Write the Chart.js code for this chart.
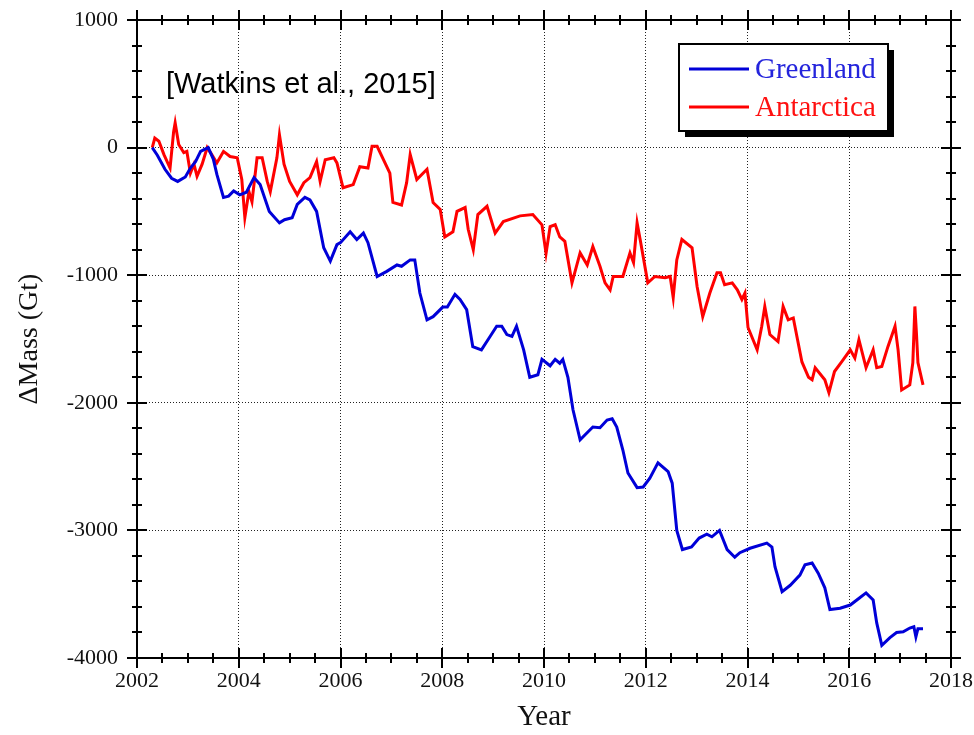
<!DOCTYPE html>
<html>
<head>
<meta charset="utf-8">
<script src="https://cdn.jsdelivr.net/npm/chart.js@4.4.1/dist/chart.umd.min.js"></script>
<style>
  html, body { margin: 0; padding: 0; background: #fff; }
  #wrap { width: 974px; height: 735px; }
</style>
</head>
<body>
<div id="wrap"><canvas id="chart"></canvas></div>
<script>
// values (decimal year, Gt)
const greenlandYears = [
  2002.30, 2002.40, 2002.55, 2002.68, 2002.80, 2002.95, 2003.05, 2003.15, 2003.25, 2003.40,
  2003.50, 2003.57, 2003.70, 2003.80, 2003.90, 2004.02, 2004.15, 2004.30, 2004.42, 2004.60,
  2004.80, 2004.90, 2005.05, 2005.15, 2005.30, 2005.40, 2005.53, 2005.67, 2005.80, 2005.93,
  2006.00, 2006.19, 2006.32, 2006.45, 2006.54, 2006.72, 2006.91, 2007.11, 2007.20, 2007.37,
  2007.46, 2007.56, 2007.70, 2007.82, 2008.01, 2008.10, 2008.25, 2008.35, 2008.48, 2008.60,
  2008.77, 2008.94, 2009.07, 2009.17, 2009.27, 2009.37, 2009.46, 2009.60, 2009.72, 2009.88,
  2009.96, 2010.12, 2010.22, 2010.31, 2010.37, 2010.47, 2010.57, 2010.71, 2010.96, 2011.10,
  2011.24, 2011.34, 2011.43, 2011.55, 2011.65, 2011.83, 2011.95, 2012.08, 2012.24, 2012.44,
  2012.52, 2012.61, 2012.72, 2012.90, 2013.05, 2013.20, 2013.30, 2013.45, 2013.60, 2013.75,
  2013.85, 2014.05, 2014.38, 2014.48, 2014.54, 2014.68, 2014.84, 2015.03, 2015.13, 2015.27,
  2015.39, 2015.52, 2015.62, 2015.82, 2016.02, 2016.20, 2016.33, 2016.47, 2016.54, 2016.64,
  2016.80, 2016.93, 2017.06, 2017.19, 2017.27, 2017.31, 2017.35, 2017.45
];
const greenlandMass = [
  0, -60, -170, -240, -265, -230, -160, -110, -30, 0,
  -90, -210, -390, -380, -340, -370, -350, -235, -290, -500,
  -590, -565, -550, -445, -390, -410, -500, -785, -890, -760,
  -745, -660, -720, -670, -745, -1010, -970, -920, -930, -880,
  -880, -1140, -1350, -1325, -1250, -1250, -1150, -1190, -1270, -1560,
  -1585, -1480, -1400, -1400, -1465, -1480, -1400, -1585, -1800, -1780,
  -1660, -1710, -1660, -1690, -1660, -1800, -2055, -2290, -2190, -2195,
  -2135, -2125, -2190, -2370, -2550, -2665, -2660, -2590, -2470, -2540,
  -2630, -3000, -3150, -3130, -3060, -3030, -3050, -3000, -3150, -3210,
  -3175, -3140, -3100, -3130, -3285, -3480, -3430, -3350, -3270, -3255,
  -3335, -3450, -3620, -3610, -3585, -3530, -3490, -3545, -3725, -3900,
  -3840, -3800, -3795, -3765, -3755, -3835, -3770, -3770
];

const antarcticaYears = [
  2002.30, 2002.35, 2002.43, 2002.53, 2002.65, 2002.72, 2002.75, 2002.82, 2002.92, 2002.98,
  2003.05, 2003.12, 2003.18, 2003.28, 2003.38, 2003.47, 2003.57, 2003.70, 2003.83, 2003.97,
  2004.06, 2004.12, 2004.20, 2004.26, 2004.36, 2004.46, 2004.56, 2004.62, 2004.75, 2004.80,
  2004.89, 2005.00, 2005.15, 2005.28, 2005.40, 2005.53, 2005.60, 2005.70, 2005.87, 2005.93,
  2006.05, 2006.25, 2006.38, 2006.54, 2006.62, 2006.72, 2006.97, 2007.03, 2007.20, 2007.30,
  2007.37, 2007.50, 2007.70, 2007.82, 2007.96, 2008.05, 2008.21, 2008.29, 2008.45, 2008.51,
  2008.61, 2008.70, 2008.88, 2009.04, 2009.20, 2009.53, 2009.78, 2009.96, 2010.04, 2010.12,
  2010.22, 2010.31, 2010.41, 2010.55, 2010.71, 2010.85, 2010.96, 2011.10, 2011.20, 2011.30,
  2011.36, 2011.55, 2011.69, 2011.76, 2011.83, 2011.89, 2012.04, 2012.18, 2012.38, 2012.48,
  2012.54, 2012.61, 2012.71, 2012.91, 2013.01, 2013.12, 2013.26, 2013.40, 2013.47, 2013.55,
  2013.70, 2013.80, 2013.89, 2013.95, 2014.01, 2014.19, 2014.28, 2014.34, 2014.44, 2014.60,
  2014.70, 2014.80, 2014.90, 2015.07, 2015.20, 2015.27, 2015.33, 2015.52, 2015.60, 2015.71,
  2015.85, 2016.02, 2016.11, 2016.19, 2016.33, 2016.47, 2016.54, 2016.64, 2016.76, 2016.90,
  2016.96, 2017.03, 2017.19, 2017.25, 2017.29, 2017.32, 2017.35, 2017.45
];
const antarcticaMass = [
  0, 75, 50, -55, -160, 125, 195, 25, -40, -30,
  -200, -130, -225, -130, 0, -55, -120, -30, -70, -80,
  -250, -550, -345, -425, -80, -80, -265, -345, -80, 100,
  -130, -265, -370, -275, -235, -110, -265, -95, -80, -120,
  -315, -290, -150, -160, 10, 10, -200, -430, -450, -275,
  -55, -250, -170, -430, -485, -700, -660, -500, -470, -640,
  -800, -525, -460, -670, -580, -535, -525, -605, -830, -620,
  -605, -700, -735, -1060, -825, -920, -775, -930, -1060, -1115,
  -1010, -1010, -825, -900, -590, -720, -1060, -1010, -1020, -1010,
  -1175, -880, -720, -785, -1090, -1325, -1140, -980, -980, -1075,
  -1060, -1115, -1190, -1140, -1410, -1585, -1400, -1245, -1465, -1520,
  -1245, -1350, -1335, -1680, -1800, -1820, -1725, -1820, -1920, -1755,
  -1680, -1585, -1650, -1505, -1725, -1585, -1725, -1715, -1560, -1400,
  -1585, -1900, -1860, -1685, -1245, -1450, -1685, -1860
];

const seriesNames = ['Greenland', 'Antarctica'];
const seriesColors = ['#0000d8', '#ff0000'];
const legendTextColors = ['#2424dc', '#ff1010'];
const xTicks = [2002, 2004, 2006, 2008, 2010, 2012, 2014, 2016, 2018];
const yTicks = [-4000, -3000, -2000, -1000, 0, 1000];
const citation = '[Watkins et al., 2015]';

const toPoints = (xs, ys) => xs.map((x, i) => ({ x: x, y: ys[i] }));

// box frame with ticks crossing all four sides, legend box with shadow, citation
const framePlugin = {
  id: 'frameTicks',
  afterDatasetsDraw(chart) {
    const { ctx, chartArea: a, scales } = chart;
    const xs = scales.x, ys = scales.y;
    ctx.save();
    ctx.strokeStyle = '#000';
    ctx.lineWidth = 2;
    ctx.strokeRect(a.left, a.top, a.right - a.left, a.bottom - a.top);

    ctx.beginPath();
    for (let v = xTicks[0]; v <= xTicks[xTicks.length - 1] + 1e-6; v += 0.5) {
      const px = Math.round(xs.getPixelForValue(v));
      const len = (Math.abs(v / 2 - Math.round(v / 2)) < 1e-6) ? 10 : 5;
      ctx.moveTo(px, a.bottom - len); ctx.lineTo(px, a.bottom + len);
      ctx.moveTo(px, a.top - len); ctx.lineTo(px, a.top + len);
    }
    for (let v = yTicks[0]; v <= yTicks[yTicks.length - 1] + 1e-6; v += 200) {
      const py = Math.round(ys.getPixelForValue(v));
      const len = (v % 1000 === 0) ? 10 : 5;
      ctx.moveTo(a.left - len, py); ctx.lineTo(a.left + len, py);
      ctx.moveTo(a.right - len, py); ctx.lineTo(a.right + len, py);
    }
    ctx.stroke();
    ctx.restore();
  },
  afterDraw(chart) {
    const { ctx } = chart;
    ctx.save();
    // citation
    ctx.fillStyle = '#000';
    ctx.font = '29px "Liberation Sans", Arial, sans-serif';
    ctx.textBaseline = 'alphabetic';
    ctx.textAlign = 'left';
    ctx.fillText(citation, 166, 93);

    // legend
    const bx = 679, by = 44, bw = 209, bh = 87;
    ctx.fillStyle = '#000';
    ctx.fillRect(bx + 6, by + 6, bw, bh);
    ctx.fillStyle = '#fff';
    ctx.fillRect(bx, by, bw, bh);
    ctx.strokeStyle = '#000';
    ctx.lineWidth = 2;
    ctx.strokeRect(bx, by, bw, bh);
    ctx.font = '29px "Liberation Serif", "Times New Roman", serif';
    const rows = [69, 107];
    chart.data.datasets.forEach((ds, i) => {
      ctx.strokeStyle = ds.borderColor;
      ctx.lineWidth = 3;
      ctx.beginPath();
      ctx.moveTo(bx + 10, rows[i]);
      ctx.lineTo(bx + 70, rows[i]);
      ctx.stroke();
      ctx.fillStyle = legendTextColors[i];
      ctx.textBaseline = 'middle';
      ctx.fillText(ds.label, bx + 76, rows[i] + 1);
    });
    ctx.restore();
  }
};

const tickFont = { family: '"Liberation Serif", "Times New Roman", serif', size: 22 };
const gridStyle = { color: '#222', lineWidth: 1, drawTicks: false };
const dotted = { display: false, dash: [1, 2] };

new Chart(document.getElementById('chart'), {
  type: 'line',
  data: {
    datasets: [
      {
        label: seriesNames[0],
        data: toPoints(greenlandYears, greenlandMass),
        borderColor: seriesColors[0],
        borderWidth: 3,
        pointRadius: 0,
        tension: 0,
        fill: false
      },
      {
        label: seriesNames[1],
        data: toPoints(antarcticaYears, antarcticaMass),
        borderColor: seriesColors[1],
        borderWidth: 3,
        pointRadius: 0,
        tension: 0,
        fill: false
      }
    ]
  },
  options: {
    responsive: true,
    maintainAspectRatio: false,
    animation: false,
    layout: { padding: { left: 0, right: 23, top: 20, bottom: 0 } },
    plugins: {
      legend: { display: false },
      tooltip: { enabled: false }
    },
    scales: {
      x: {
        type: 'linear',
        min: xTicks[0],
        max: xTicks[xTicks.length - 1],
        afterBuildTicks: (scale) => { scale.ticks = xTicks.map(v => ({ value: v })); },
        afterFit: (scale) => {
          scale.height = 77;
          scale.paddingLeft = 0;
          scale.paddingRight = 0;
        },
        border: dotted,
        grid: gridStyle,
        ticks: {
          padding: 10,
          color: '#111',
          font: tickFont,
          maxRotation: 0,
          callback: (v) => String(v)
        },
        title: {
          display: true,
          text: 'Year',
          color: '#111',
          font: { family: '"Liberation Serif", "Times New Roman", serif', size: 29 },
          padding: { top: 0, bottom: 0 }
        }
      },
      y: {
        type: 'linear',
        min: yTicks[0],
        max: yTicks[yTicks.length - 1],
        afterBuildTicks: (scale) => { scale.ticks = yTicks.map(v => ({ value: v })); },
        afterFit: (scale) => {
          scale.width = 137;
          scale.paddingTop = 0;
          scale.paddingBottom = 0;
        },
        border: dotted,
        grid: gridStyle,
        ticks: {
          padding: 19,
          color: '#111',
          font: tickFont,
          callback: (v) => String(v)
        },
        title: {
          display: true,
          text: '\u0394Mass (Gt)',
          color: '#111',
          font: { family: '"Liberation Serif", "Times New Roman", serif', size: 28 },
          padding: { top: 13, bottom: 0 }
        }
      }
    }
  },
  plugins: [framePlugin]
});
</script>
</body>
</html>
